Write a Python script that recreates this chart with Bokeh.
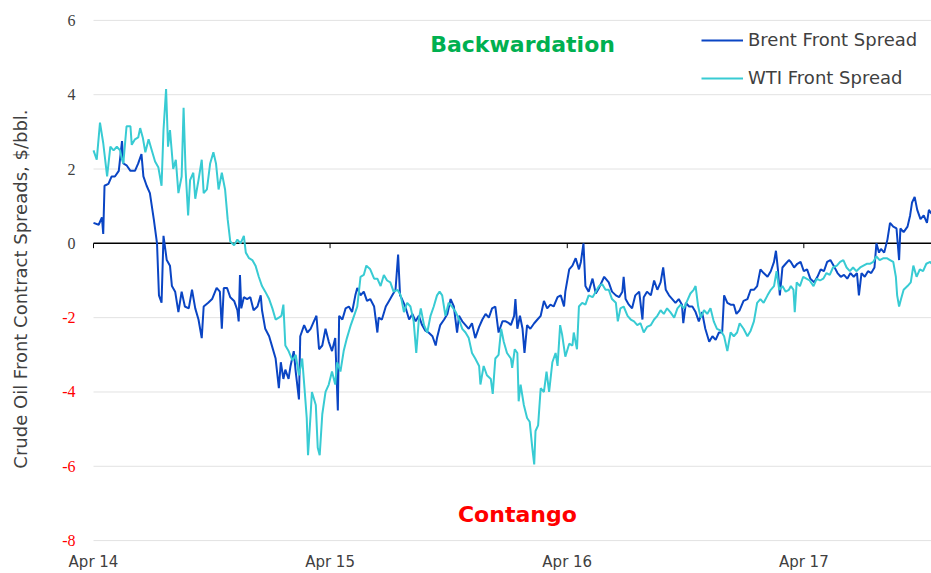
import math
import pandas as pd
from bokeh.plotting import figure
from bokeh.models import (Range1d, FixedTicker, DatetimeTickFormatter, Label,
                          Legend, LegendItem, ColumnDataSource)
from bokeh.embed import file_html
from bokeh.resources import INLINE

# ---------------- data ----------------
START_DATE = "2014-04-01"   # day 0 of the day offsets below
END_DAY = 1293              # last day shown

brent_days = [
    0, 8, 13, 15, 17, 23, 28, 33, 39, 44, 46, 51, 57, 64, 69, 74, 77, 82, 87, 93, 98, 101, 105, 108,
    113, 118, 121, 126, 131, 136, 141, 147, 152, 157, 162, 167, 170, 177, 183, 190, 195, 198, 201, 206,
    211, 217, 222, 224, 226, 228, 232, 237, 242, 247, 253, 258, 260, 265, 271, 276, 281, 286, 289, 293,
    296, 301, 304, 309, 312, 317, 319, 325, 330, 335, 340, 344, 348, 353, 358, 363, 368, 373, 377, 379,
    384, 389, 394, 399, 404, 407, 412, 417, 422,
    427, 433, 438, 440, 445, 451, 456, 461, 466, 470, 473, 476, 481, 487, 492, 497, 502, 507, 512, 517,
    523, 528, 530, 535, 541, 546, 551, 556, 561, 564, 569, 574, 579, 584, 589, 595, 600, 605, 610, 615,
    620, 625, 631, 636, 641,
    644, 649, 651, 654, 658, 662, 665, 669, 674, 680, 685, 690, 695, 700, 705, 710, 716, 721, 726, 728,
    734, 739, 744, 749, 752, 756, 759, 764, 770, 775, 780, 788, 795, 800, 806, 811, 816, 818, 821, 826,
    831, 836, 842, 847, 849, 854, 860,
    865, 870, 875, 879, 883, 888, 893, 898, 903, 908, 910, 914, 919, 924, 929, 934, 939, 944, 950, 955,
    960, 965, 970, 973, 978, 983, 988, 992, 997, 1003, 1009, 1014, 1019, 1024, 1029, 1034, 1040, 1045,
    1050, 1053, 1056, 1059, 1063, 1068, 1073,
    1076, 1081, 1086, 1091, 1096, 1101, 1106, 1112, 1117, 1122, 1127, 1132, 1137, 1142, 1148, 1153,
    1158, 1163, 1168, 1173, 1178, 1181, 1185, 1190, 1195, 1200, 1205, 1208, 1212, 1215, 1220, 1225,
    1229, 1234, 1239, 1243, 1245, 1250, 1256, 1260, 1263, 1267, 1271, 1276, 1281, 1286, 1289, 1293,
]
brent_spread = [
    0.55, 0.5, 0.7, 0.25, 1.55, 1.6, 1.8, 1.8, 1.95, 2.75, 2.15, 2.1, 1.95, 1.95, 2.15, 2.4, 1.8, 1.55, 1.35, 0.65, 0.0, -1.4, -1.6, 0.2,
    -0.45, -0.6, -1.15, -1.3, -1.85, -1.3, -1.7, -1.75, -1.25, -1.75, -2.05, -2.55, -1.7, -1.6, -1.5, -1.2, -1.3, -2.3, -1.2, -1.2,
    -1.45, -1.55, -1.8, -2.1, -0.85, -1.75, -1.45, -1.5, -1.45, -1.8, -1.7, -1.4, -1.8, -2.3, -2.5, -2.8, -3.1, -3.9, -3.2, -3.65,
    -3.4, -3.65, -3.3, -2.9, -3.45, -4.2, -2.5, -2.2, -2.4, -2.3, -2.1, -1.95, -2.85, -2.75, -2.3, -2.65, -2.9, -2.55, -4.5, -1.95,
    -2.05, -1.75, -1.7, -1.85, -1.4, -1.2, -1.4, -1.3, -1.55,
    -1.5, -1.7, -2.4, -2.0, -2.05, -1.7, -1.55, -1.4, -1.25, -0.3, -1.4, -1.5, -1.7, -2.05, -1.9, -2.1, -1.95, -2.2, -2.35, -2.4,
    -2.5, -2.75, -2.55, -2.2, -2.05, -1.9, -1.5, -1.7, -2.4, -1.95, -2.1, -2.2, -2.3, -2.15, -2.55, -2.25, -2.05, -1.9, -2.0, -1.75,
    -1.7, -2.4, -2.1, -2.1, -2.15,
    -2.2, -1.95, -1.5, -2.3, -1.95, -2.3, -2.95, -2.2, -2.3, -2.15, -2.05, -1.95, -1.55, -1.75, -1.65, -1.7, -1.45, -1.4, -1.7, -1.3,
    -0.7, -0.6, -0.4, -0.7, -0.5, 0.0, -1.15, -1.3, -0.95, -1.35, -1.2, -0.9, -1.05, -1.3, -1.4, -1.45, -1.3, -0.9, -1.5, -1.65,
    -1.75, -1.4, -1.3, -2.05, -1.45, -1.3, -1.4,
    -1.0, -1.25, -1.05, -0.65, -1.25, -1.4, -1.5, -1.6, -1.5, -1.65, -2.15, -1.6, -1.7, -1.7, -1.85, -2.1, -1.85, -2.3, -2.65, -2.5,
    -2.6, -2.4, -2.4, -1.4, -1.6, -1.65, -1.65, -1.9, -1.8, -1.55, -1.5, -1.25, -1.25, -1.15, -0.7, -0.8, -0.9, -0.75,
    -0.5, -0.2, -0.7, -1.4, -0.65, -0.55, -0.45,
    -0.5, -0.65, -0.55, -0.5, -0.75, -0.7, -0.95, -1.05, -0.9, -0.7, -0.75, -0.5, -0.45, -0.6, -0.8, -0.9,
    -0.85, -0.95, -0.8, -0.9, -0.8, -1.4, -0.8, -0.9, -0.75, -0.8, -0.65, 0.0, -0.25, -0.15, -0.25, 0.1,
    0.55, 0.45, 0.4, -0.45, 0.4, 0.3, 0.45, 0.75, 1.1, 1.25, 0.9, 0.65, 0.75, 0.55, 0.9, 0.8,
]

wti_days = [
    0, 5, 10, 15, 21, 26, 31, 36, 41, 44, 46, 51, 57, 59, 64, 69, 72, 76, 80, 85, 90, 95, 100, 105, 108,
    112, 115, 118, 123, 127, 131, 136, 139, 142, 146, 149, 154, 157, 162, 167, 170, 175, 180, 185, 189,
    193, 198, 203, 207,
    211, 217, 222, 227, 232, 235, 240, 245, 250, 255, 260, 265, 271, 276, 281, 286, 290, 293, 296, 301,
    307, 312, 317, 322, 326, 329, 331, 335, 337, 343, 346, 349, 353, 358, 363, 368, 373, 376, 381, 386,
    391, 397, 402, 407, 412, 417, 421,
    427, 433, 438, 443, 448, 453, 458, 463, 469, 474, 479, 484, 489, 494, 498, 502, 505, 510, 515, 520,
    525, 530, 534, 538, 543, 548, 553, 559, 564, 569, 574, 579, 584, 589, 595, 597, 602, 607, 613, 616,
    620, 625, 629, 633, 638,
    644, 646, 650, 654, 656, 659, 664, 669, 673, 677, 680, 682, 686, 690, 695, 699, 703, 708, 713, 716,
    720, 723, 728, 734, 739, 741, 746, 749, 754, 759, 764, 770, 775, 780, 785, 790, 795, 800, 806, 809,
    813, 818, 824, 829, 834, 839, 844, 849, 854, 860,
    865, 870, 875, 880, 885, 890, 896, 901, 906, 911, 916, 921, 926, 929, 933, 937, 942, 947, 952, 957,
    962, 968, 973, 978, 983, 988, 993, 997, 1003, 1009, 1014, 1019, 1024, 1029, 1034, 1040, 1045, 1050,
    1054, 1058, 1063, 1068, 1073,
    1076, 1080, 1082, 1085, 1090, 1095, 1100, 1105, 1111, 1116, 1121, 1126, 1131, 1136, 1141, 1147,
    1152, 1157, 1162, 1167, 1172, 1177, 1183, 1188, 1193, 1198, 1203, 1208, 1213, 1219, 1224, 1229,
    1234, 1238, 1240, 1243, 1246, 1250, 1256, 1261, 1265, 1270, 1275, 1280, 1285, 1291, 1293,
]
wti_spread = [
    2.5, 2.25, 3.25, 2.7, 1.8, 2.6, 2.5, 2.6, 2.5, 2.25, 2.15, 3.15, 3.15, 2.65, 2.8, 2.85, 3.1, 2.85, 2.45, 2.8, 2.5, 2.2, 2.05, 1.55, 3.05,
    4.15, 2.6, 3.05, 2.0, 2.25, 1.35, 1.8, 3.65, 2.0, 0.75, 1.7, 1.9, 1.2, 1.7, 2.25, 1.35, 1.45, 2.15, 2.45, 2.15,
    1.45, 1.9, 1.45, 0.65,
    0.05, -0.05, 0.1, 0.0, 0.2, -0.25, -0.4, -0.45, -0.6, -0.9, -1.15, -1.3, -1.5, -1.75, -2.05, -2.0, -1.95, -1.65, -2.75, -2.9,
    -3.15, -3.0, -3.55, -3.1, -4.0, -4.7, -5.7, -4.6, -4.0, -4.35, -5.5, -5.7, -4.6, -4.0, -3.8, -3.45, -3.8, -3.2, -3.45, -2.9,
    -2.55, -2.2, -1.95, -1.7, -0.9, -0.85, -0.6,
    -0.7, -0.95, -0.95, -1.15, -0.85, -1.0, -1.05, -1.3, -1.25, -1.4, -1.85, -1.6, -1.7, -2.1, -2.95, -2.05, -1.75, -2.2, -2.4, -1.95,
    -1.7, -1.4, -1.3, -1.4, -1.95, -1.6, -1.7, -1.85, -2.05, -2.3, -2.4, -2.55, -2.95, -3.1, -3.3, -3.8, -3.3, -3.55, -3.65, -4.05,
    -3.1, -3.0, -2.3, -2.65, -2.95,
    -3.1, -3.35, -2.85, -2.95, -4.25, -3.8, -4.35, -4.7, -4.8, -5.5, -5.95, -5.05, -4.9, -3.9, -4.0, -3.45, -4.0, -3.2, -2.95, -3.3,
    -2.2, -2.45, -3.05, -2.7, -2.75, -2.4, -2.85, -1.7, -1.6, -1.65, -1.4, -1.45, -1.3, -1.15, -1.1, -1.25, -1.25, -1.5, -1.6, -2.1,
    -1.75, -1.7, -1.95, -2.05, -2.1, -2.2, -2.15, -2.4, -2.25, -2.2,
    -2.05, -1.95, -1.8, -1.9, -1.75, -1.85, -2.0, -1.75, -1.65, -1.75, -1.55, -1.35, -1.25, -1.15, -1.7, -2.0, -1.8, -1.9, -1.75, -2.1,
    -2.3, -2.35, -2.5, -2.9, -2.4, -2.5, -2.4, -2.15, -2.3, -2.5, -2.35, -2.1, -1.6, -1.5, -1.6, -1.4, -1.25, -1.15,
    -0.75, -1.25, -1.15, -1.3, -1.25,
    -1.15, -1.25, -1.85, -1.05, -1.15, -0.9, -0.95, -1.0, -1.15, -0.95, -1.0, -0.95, -0.8, -0.85, -0.65, -0.6,
    -0.5, -0.45, -0.65, -0.75, -0.65, -0.75, -0.65, -0.6, -0.55, -0.55, -0.5, -0.35, -0.45, -0.4, -0.4, -0.45,
    -0.5, -0.9, -1.4, -1.7, -1.5, -1.25, -1.15, -1.05, -0.6, -0.9, -0.7, -0.75, -0.55, -0.5, -0.55,
]

series_names = ["Brent Front Spread", "WTI Front Spread"]
x_tick_dates = ["2014-04-01", "2015-04-01", "2016-04-01", "2017-04-01"]
y_ticks = [-8, -6, -4, -2, 0, 2, 4, 6]
y_axis_title = "Crude Oil Front Contract Spreads, $/bbl."
zone_labels = ["Backwardation", "Contango"]

# ---------------- styling / layout ----------------
FONT = "DejaVu Sans"
BRENT_COLOR = "#0A45C4"
WTI_COLOR = "#38CBD3"
TEXT_GRAY = "#404040"
NEG_RED = "#FF0000"
GRID_GRAY = "#E2E2E2"
W, H = 931, 573
LEFT_PAD_DAYS = 143.5      # room left of the first date for the y labels (inside the frame)
Y_PAD_TOP = 0.535          # room above the top tick for its label
Y_PAD_BOTTOM = 0.32        # room below the bottom tick for its label

start = pd.Timestamp(START_DATE)
end = start + pd.Timedelta(days=END_DAY)
brent_x = start + pd.to_timedelta(brent_days, unit="D")
wti_x = start + pd.to_timedelta(wti_days, unit="D")
tick_x = pd.to_datetime(x_tick_dates)
tick_ms = [t.value // 10**6 for t in tick_x]

p = figure(width=W, height=H, x_axis_type="datetime",
           x_range=Range1d(start - pd.Timedelta(days=LEFT_PAD_DAYS), end),
           y_range=Range1d(y_ticks[0] - Y_PAD_BOTTOM, y_ticks[-1] + Y_PAD_TOP),
           output_backend="svg", toolbar_location=None,
           min_border_left=0, min_border_right=0, min_border_top=0, min_border_bottom=18)
p.outline_line_color = None
p.background_fill_color = "white"
p.xgrid.visible = False
p.ygrid.visible = False
p.yaxis.visible = False

# horizontal grid lines across the data area only (zero line in black)
grid_src = ColumnDataSource(dict(x0=[start] * len(y_ticks), x1=[end] * len(y_ticks),
                                 y=y_ticks,
                                 color=["black" if t == 0 else GRID_GRAY for t in y_ticks],
                                 width=[1.5 if t == 0 else 1 for t in y_ticks]))
p.segment(x0="x0", y0="y", x1="x1", y1="y", line_color="color", line_width="width",
          source=grid_src)

# y tick labels: gray for >= 0, red for negatives
lab_src = ColumnDataSource(dict(x=[start] * len(y_ticks), y=y_ticks,
                                text=[str(t) for t in y_ticks],
                                color=[NEG_RED if t < 0 else TEXT_GRAY for t in y_ticks]))
p.text(x="x", y="y", text="text", text_color="color", source=lab_src, x_offset=-18,
       text_align="right", text_baseline="middle", text_font=FONT, text_font_size="16px")

# y axis title
p.add_layout(Label(x=start, y=-1.23, x_offset=-73, text=y_axis_title, angle=math.pi / 2,
                   text_align="center", text_baseline="middle", text_font=FONT,
                   text_font_size="18px", text_color=TEXT_GRAY))

# x axis
xa = p.xaxis[0]
xa.ticker = FixedTicker(ticks=tick_ms)
fmt = "%b %y"
xa.formatter = DatetimeTickFormatter(milliseconds=fmt, seconds=fmt, minsec=fmt, minutes=fmt,
                                     hourmin=fmt, hours=fmt, days=fmt, months=fmt, years=fmt)
xa.axis_line_color = None
xa.major_tick_line_color = None
xa.minor_tick_line_color = None
xa.major_tick_out = 0
xa.major_tick_in = 0
xa.major_label_standoff = 0
xa.major_label_text_font = FONT
xa.major_label_text_font_size = "15px"
xa.major_label_text_color = TEXT_GRAY

# small ticks hanging from the zero line
p.segment(x0=tick_x, y0=[0] * len(tick_x), x1=tick_x, y1=[-0.13] * len(tick_x),
          line_color="black", line_width=1)

# series
r_brent = p.line(brent_x, brent_spread, line_color=BRENT_COLOR, line_width=2)
r_wti = p.line(wti_x, wti_spread, line_color=WTI_COLOR, line_width=2)

legend = Legend(items=[LegendItem(label=series_names[0], renderers=[r_brent]),
                       LegendItem(label=series_names[1], renderers=[r_wti])],
                location=(701, 464), orientation="vertical",
                glyph_width=42, glyph_height=20, label_height=20, label_standoff=5,
                spacing=17, padding=0, margin=0,
                label_text_font=FONT, label_text_font_size="18px", label_text_color=TEXT_GRAY,
                border_line_color=None, background_fill_alpha=0)
p.add_layout(legend)

# zone annotations
p.add_layout(Label(x=start + pd.Timedelta(days=662), y=5.35, text=zone_labels[0],
                   text_align="center", text_baseline="middle", text_font=FONT,
                   text_font_size="22px", text_font_style="bold", text_color="#00B050"))
p.add_layout(Label(x=start + pd.Timedelta(days=654), y=-7.3, text=zone_labels[1],
                   text_align="center", text_baseline="middle", text_font=FONT,
                   text_font_size="22px", text_font_style="bold", text_color=NEG_RED))

open("out.html", "w").write(file_html(p, INLINE))
